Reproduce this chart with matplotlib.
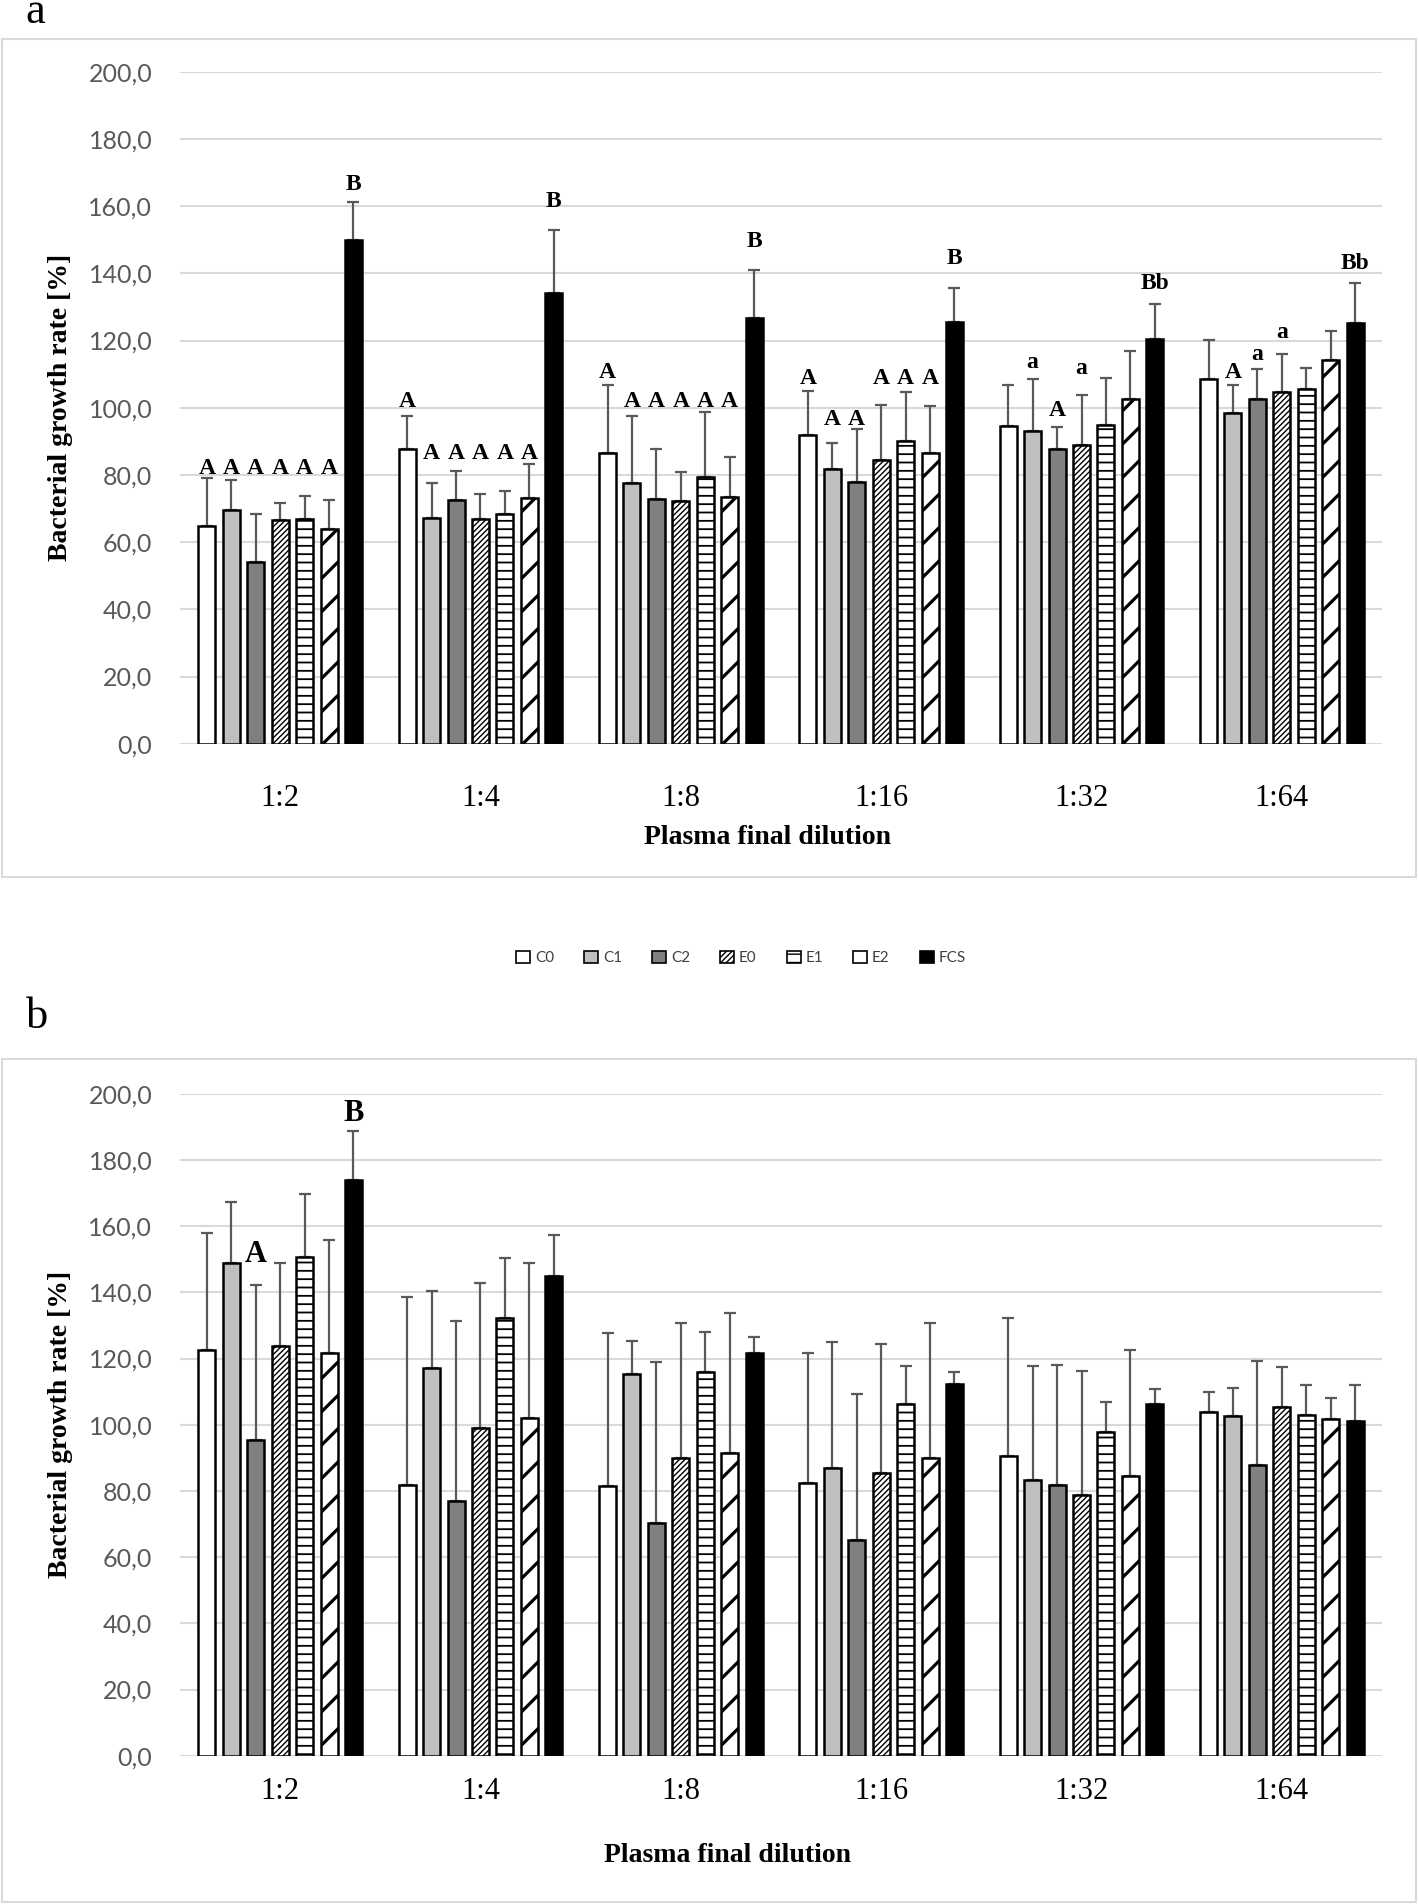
import numpy as np
import matplotlib.pyplot as plt
from matplotlib.patches import Patch, Rectangle

# data (mean and SD, %)
dilutions = ['1:2', '1:4', '1:8', '1:16', '1:32', '1:64']
groups = ['C0', 'C1', 'C2', 'E0', 'E1', 'E2', 'FCS']

mean_a = {
    'C0':  [64.8, 87.6, 86.6, 91.8, 94.7, 108.4],
    'C1':  [69.5, 67.3, 77.6, 81.9, 93.0, 98.3],
    'C2':  [54.1, 72.4, 72.7, 77.9, 87.6, 102.5],
    'E0':  [66.5, 67.0, 72.2, 84.3, 88.8, 104.7],
    'E1':  [66.8, 68.5, 79.4, 90.0, 94.9, 105.6],
    'E2':  [63.8, 73.2, 73.4, 86.6, 102.7, 114.2],
    'FCS': [150.0, 134.2, 126.7, 125.4, 120.3, 125.3],
}
sd_a = {
    'C0':  [14.4, 9.9, 20.1, 13.2, 12.2, 11.7],
    'C1':  [8.9, 10.3, 19.8, 7.6, 15.6, 8.4],
    'C2':  [14.2, 8.7, 15.1, 15.7, 6.8, 8.9],
    'E0':  [5.0, 7.4, 8.7, 16.6, 14.9, 11.4],
    'E1':  [6.9, 6.6, 19.4, 14.7, 14.0, 6.3],
    'E2':  [8.6, 10.1, 11.9, 13.9, 14.1, 8.6],
    'FCS': [11.1, 18.6, 14.4, 10.2, 10.7, 11.8],
}
mean_b = {
    'C0':  [122.6, 81.9, 81.5, 82.3, 90.4, 103.7],
    'C1':  [149.0, 117.1, 115.4, 86.8, 83.3, 102.7],
    'C2':  [95.4, 76.9, 70.3, 65.1, 81.8, 87.7],
    'E0':  [123.9, 99.1, 89.9, 85.3, 78.8, 105.3],
    'E1':  [150.6, 132.2, 115.9, 106.3, 97.9, 103.0],
    'E2':  [121.6, 102.0, 91.4, 89.8, 84.5, 101.7],
    'FCS': [174.0, 144.8, 121.6, 112.3, 106.3, 101.2],
}
sd_b = {
    'C0':  [35.3, 56.8, 46.2, 39.3, 41.8, 6.3],
    'C1':  [18.3, 23.2, 10.0, 38.1, 34.3, 8.5],
    'C2':  [46.9, 54.5, 48.5, 44.2, 36.1, 31.4],
    'E0':  [25.1, 43.7, 40.8, 39.1, 37.3, 12.1],
    'E1':  [19.2, 18.3, 12.1, 11.3, 9.1, 9.0],
    'E2':  [34.3, 46.8, 42.3, 41.0, 38.1, 6.5],
    'FCS': [14.8, 12.4, 4.8, 3.5, 4.4, 10.8],
}

# significance letters: (dilution index, group index, text, baseline value)
letters_a = [(0, i, 'A', 80.3) for i in range(6)] + [(0, 6, 'B', 164.8)] + \
    [(1, 0, 'A', 100.3)] + [(1, i, 'A', 84.8) for i in range(1, 6)] + [(1, 6, 'B', 159.7)] + \
    [(2, 0, 'A', 108.8)] + [(2, i, 'A', 100.1) for i in range(1, 6)] + [(2, 6, 'B', 147.8)] + \
    [(3, 0, 'A', 107.2), (3, 1, 'A', 94.8), (3, 2, 'A', 94.8)] + \
    [(3, i, 'A', 107.2) for i in range(3, 6)] + [(3, 6, 'B', 142.8)] + \
    [(4, 1, 'a', 111.9), (4, 2, 'A', 97.5), (4, 3, 'a', 109.9), (4, 6, 'Bb', 135.4)] + \
    [(5, 1, 'A', 108.7), (5, 2, 'a', 114.3), (5, 3, 'a', 120.8), (5, 6, 'Bb', 141.4)]
letters_b = [(0, 2, 'A', 149.3), (0, 6, 'B', 191.7)]

# bar styles
styles = {
    'C0':  dict(color='white', hatch=None, hlw=1.0),
    'C1':  dict(color='#bfbfbf', hatch=None, hlw=1.0),
    'C2':  dict(color='#808080', hatch=None, hlw=1.0),
    'E0':  dict(color='white', hatch='//////', hlw=1.0),
    'E1':  dict(color='white', hatch='--', hlw=1.3),
    'E2':  dict(color='white', hatch='/', hlw=2.3),
    'FCS': dict(color='black', hatch=None, hlw=1.0),
}

W, H = 1419, 1904
SERIF = 'Liberation Serif'
SANS = ['Lato', 'DejaVu Sans']
GRID = '#d9d9d9'
ERR = '#595959'

fig = plt.figure(figsize=(W / 100, H / 100), dpi=100)


def draw_panel(ax, means, sds, letters, letter_size, xtick_pad):
    x = np.arange(len(dilutions))
    pitch, width = 0.122, 0.085
    for j, g in enumerate(groups):
        st = styles[g]
        pos = x + (j - 3) * pitch
        bars = ax.bar(pos, means[g], width, color=st['color'], edgecolor='black',
                      linewidth=1.8, hatch=st['hatch'], zorder=3)
        for b in bars:
            try:
                b.set_hatch_linewidth(st['hlw'])
            except AttributeError:
                pass
        ax.errorbar(pos, means[g], yerr=[np.zeros(len(x)), sds[g]], fmt='none',
                    ecolor=ERR, elinewidth=1.6, capsize=4, capthick=1.6, zorder=2)
    for gi, si, txt, yv in letters:
        ax.text(gi + (si - 3) * pitch, yv, txt, ha='center', va='baseline',
                fontsize=letter_size, fontweight='bold', family=SERIF, zorder=4)

    ax.set_xlim(-0.5, len(dilutions) - 0.5)
    ax.set_ylim(0, 200)
    ax.set_yticks(np.arange(0, 201, 20))
    ax.set_yticklabels([f'{v:.1f}'.replace('.', ',') for v in np.arange(0, 201, 20)],
                       family=SANS, fontsize=18, color='#595959')
    ax.set_xticks(x)
    ax.set_xticklabels(dilutions, family=SERIF, fontsize=22)
    ax.tick_params(axis='y', length=0, pad=20)
    ax.tick_params(axis='x', length=0, pad=xtick_pad)
    ax.yaxis.grid(True, color=GRID, linewidth=1.5)
    ax.set_axisbelow(True)
    for s in ax.spines.values():
        s.set_visible(False)


# panel a
ax_a = fig.add_axes([180 / W, 1 - 743.7 / H, 1202 / W, 672 / H])
draw_panel(ax_a, mean_a, sd_a, letters_a, 17, 29)
# panel b
ax_b = fig.add_axes([180 / W, 1 - 1755.7 / H, 1202 / W, 662 / H])
draw_panel(ax_b, mean_b, sd_b, letters_b, 22, 15)

# frames round each panel
for top, bottom in [(39, 877), (1059, 1902)]:
    fig.add_artist(Rectangle((2 / W, 1 - bottom / H), 1414 / W, (bottom - top) / H,
                             transform=fig.transFigure, fill=False,
                             edgecolor=GRID, linewidth=1.5))

# panel letters, axis titles
fig.text(25 / W, 1 - 23 / H, 'a', family=SERIF, fontsize=32, va='baseline')
fig.text(26 / W, 1 - 1028 / H, 'b', family=SERIF, fontsize=32, va='baseline')
for yc in [407.7, 1424.7]:
    fig.text(61 / W, 1 - yc / H, 'Bacterial growth rate [%]', rotation=90,
             ha='center', va='center', family=SERIF, fontweight='bold', fontsize=20)
fig.text(767 / W, 1 - 837 / H, 'Plasma final dilution', ha='center', va='center',
         family=SERIF, fontweight='bold', fontsize=20)
fig.text(728 / W, 1 - 1855 / H, 'Plasma final dilution', ha='center', va='center',
         family=SERIF, fontweight='bold', fontsize=20)

# legend between the panels
handles = []
for g in groups:
    st = styles[g]
    handles.append(Patch(facecolor=st['color'], edgecolor='black', linewidth=1.2,
                         hatch=st['hatch'], label=g))
fig.legend(handles=handles, loc='center', bbox_to_anchor=(741 / W, 1 - 958 / H),
           ncol=7, frameon=False, handlelength=0.9, handleheight=0.9,
           handletextpad=0.3, columnspacing=2.0,
           prop={'family': SANS, 'size': 11}, labelcolor='#404040')

fig.savefig('out.png', dpi=100)
